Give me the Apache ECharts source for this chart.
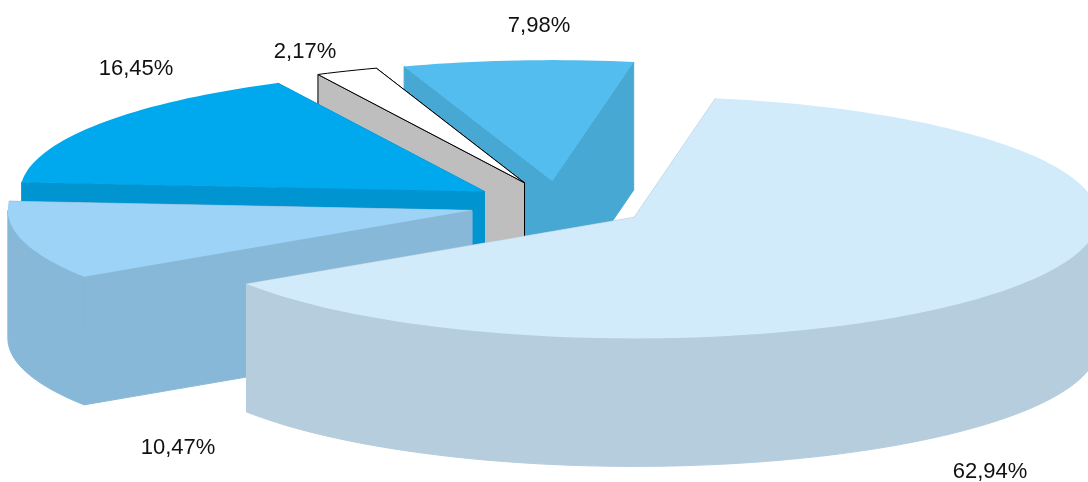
<!DOCTYPE html>
<html>
<head>
<meta charset="utf-8">
<style>html,body{margin:0;padding:0;background:#fff}#chart{width:1088px;height:482px}</style>
<script src="https://cdn.jsdelivr.net/npm/echarts@6/dist/echarts.min.js"></script>
</head>
<body>
<div id="chart"></div>
<script>
// Shares in percent, in drawing order (back to front, running counter-clockwise)
var shares = [7.98, 2.17, 16.45, 10.47, 62.94];
var labels = ['7,98%', '2,17%', '16,45%', '10,47%', '62,94%'];

// Styles
var topColors  = ['#54BDEF', '#FFFFFF', '#00A9EE', '#9DD3F7', '#D2EBFB'];
var wallColors = ['#47A8D3', '#BEBEBE', '#0094D1', '#87B8D7', '#B6CDDD'];
var strokes    = [null, '#000000', null, null, null];
var labelSpots = [[539, 26], [305, 52], [136, 69], [178, 448], [990, 472]];

// Projection of the pie
var CX = 559, CY = 204.5, RX = 464, RY = 121, DEPTH = 128, EXPLODE = 90;
var END_ANGLE = 370.1; // clockwise from the top

var total = shares.reduce(function (a, b) { return a + b; }, 0);

function spot(c, ang, r, drop) {
  var t = ang * Math.PI / 180;
  return [c[0] + r * RX * Math.sin(t), c[1] - r * RY * Math.cos(t) + (drop || 0)];
}

function arc(c, a0, a1, drop) {
  var out = [], n = Math.max(2, Math.ceil((a1 - a0) / 1.5));
  for (var i = 0; i <= n; i++) out.push(spot(c, a0 + (a1 - a0) * i / n, 1, drop));
  return out;
}

function renderSlice(params, api) {
  var idx = params.dataIndex, before = 0;
  for (var i = 0; i < idx; i++) before += shares[i];
  var a1 = END_ANGLE - before / total * 360;
  var a0 = a1 - api.value(0) / total * 360;
  var mid = (a0 + a1) / 2;
  var apex = spot([CX, CY], mid, EXPLODE / RX);
  var stroke = strokes[idx];
  function poly(points, fill, seal) {
    return { type: 'polygon', shape: { points: points },
      style: { fill: fill,
               stroke: stroke || (seal ? fill : 'none'),
               lineWidth: stroke ? 1 : (seal ? 1 : 0) } };
  }
  var wall = wallColors[idx], kids = [];
  [a1, a0].forEach(function (a) {
    var p = spot(apex, a, 1);
    kids.push(poly([p, apex, [apex[0], apex[1] + DEPTH], [p[0], p[1] + DEPTH]], wall, true));
  });
  var f0 = Math.max(a0, 90), f1 = Math.min(a1, 270);
  if (f1 > f0) {
    kids.push(poly(arc(apex, f0, f1, 0).concat(arc(apex, f0, f1, DEPTH).reverse()), wall, true));
  }
  kids.push(poly([apex].concat(arc(apex, a0, a1, 0)), topColors[idx], false));
  kids.push({ type: 'text', x: labelSpots[idx][0], y: labelSpots[idx][1],
    style: { text: labels[idx], fill: '#111111', align: 'center', verticalAlign: 'middle',
             font: '22px "Liberation Sans", Arial, sans-serif' } });
  return { type: 'group', children: kids };
}

var chart = echarts.init(document.getElementById('chart'), null, { renderer: 'canvas' });
chart.setOption({
  animation: false,
  backgroundColor: '#ffffff',
  series: [{
    type: 'custom',
    coordinateSystem: 'none',
    renderItem: renderSlice,
    data: shares.map(function (v) { return [v]; })
  }]
});
</script>
</body>
</html>
